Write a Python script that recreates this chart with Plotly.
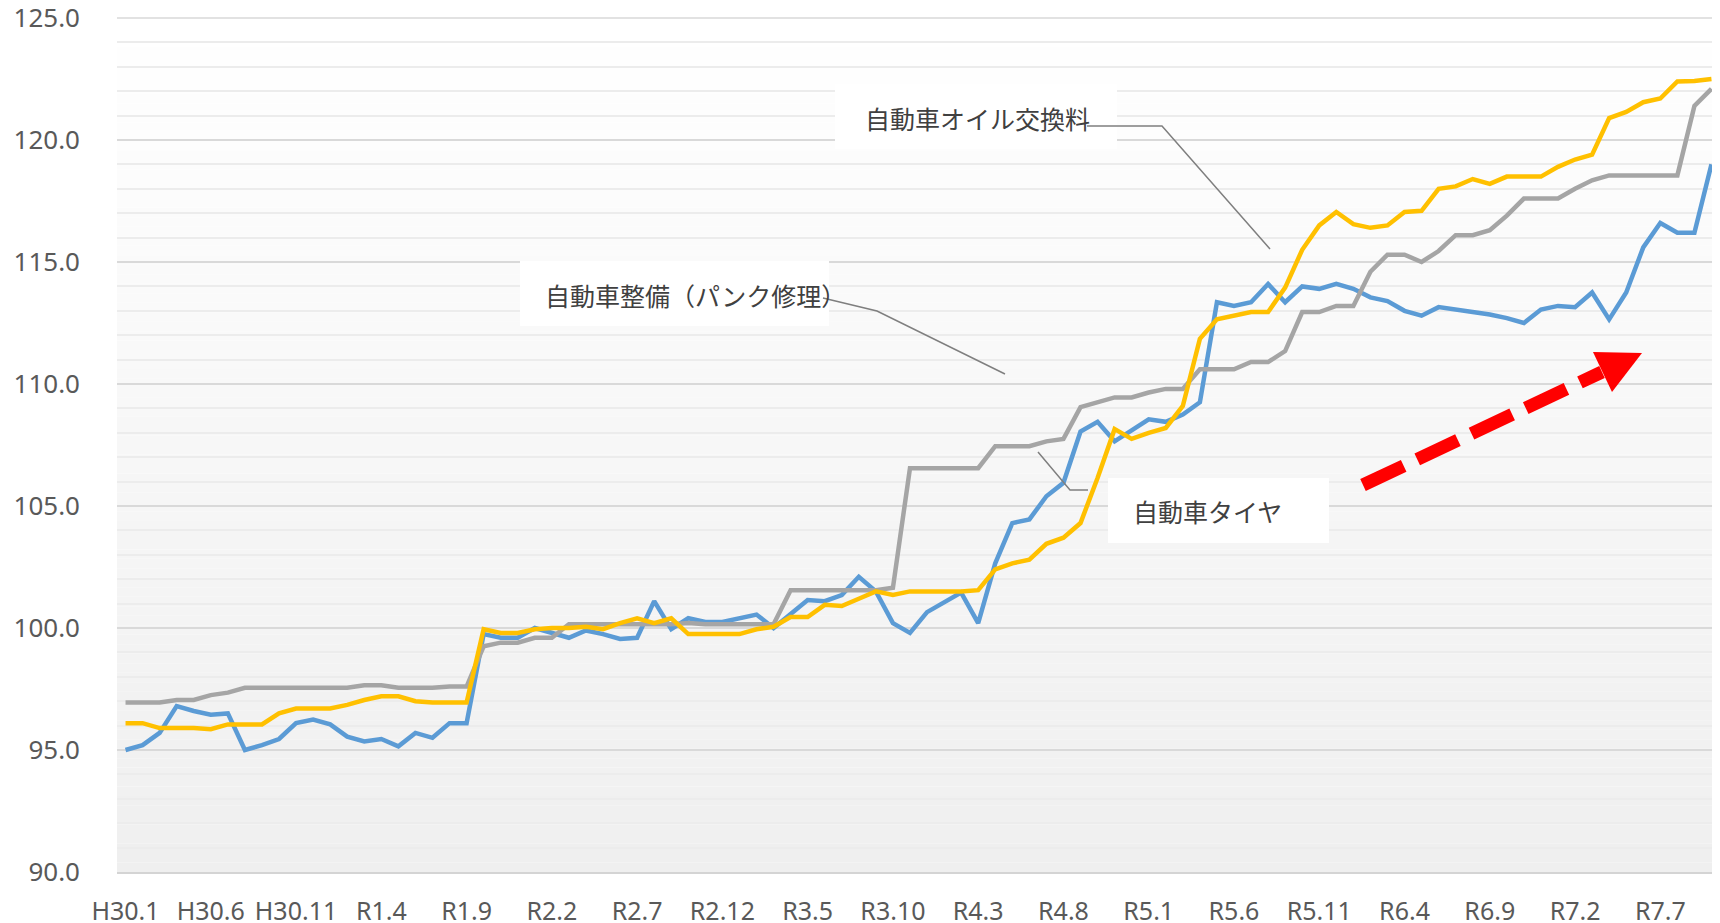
import plotly.graph_objects as go

# ---------------- data ----------------
months = []
for yr in range(2018, 2026):
    for m in range(1, 13):
        era = f"H{yr-1988}" if yr < 2019 else f"R{yr-2018}"
        months.append(f"{era}.{m}")
months = months[:94]  # H30.1 .. R7.10

tick_labels = ["H30.1", "H30.6", "H30.11", "R1.4", "R1.9", "R2.2", "R2.7", "R2.12",
               "R3.5", "R3.10", "R4.3", "R4.8", "R5.1", "R5.6", "R5.11", "R6.4",
               "R6.9", "R7.2", "R7.7"]

blue_vals = [95.0, 95.2, 95.7, 96.8, 96.6, 96.45, 96.5, 95.0, 95.2, 95.45,
             96.1, 96.25, 96.05, 95.55, 95.35, 95.45, 95.15, 95.7, 95.5, 96.1,
             96.1, 99.75, 99.6, 99.6, 100.0, 99.8, 99.6, 99.9, 99.75, 99.55,
             99.6, 101.1, 99.95, 100.4, 100.25, 100.25, 100.4, 100.55, 100.0, 100.6,
             101.15, 101.1, 101.35, 102.1, 101.5, 100.2, 99.8, 100.65, 101.05, 101.45,
             100.2, 102.65, 104.3, 104.45, 105.4, 105.95, 108.05, 108.45, 107.65, 108.1,
             108.55, 108.45, 108.75, 109.25, 113.35, 113.2, 113.35, 114.1, 113.35, 114.0,
             113.9, 114.1, 113.9, 113.55, 113.4, 113.0, 112.8, 113.15, 113.05, 112.97,
             112.85, 112.7, 112.5, 113.05, 113.2, 113.15, 113.75, 112.65, 113.75, 115.6,
             116.6, 116.2, 116.2, 119.0]

gray_vals = [96.95, 96.95, 96.95, 97.05, 97.05, 97.25, 97.35, 97.55, 97.55, 97.55,
             97.55, 97.55, 97.55, 97.55, 97.65, 97.65, 97.55, 97.55, 97.55, 97.6,
             97.6, 99.25, 99.4, 99.4, 99.6, 99.6, 100.15, 100.15, 100.15, 100.15,
             100.15, 100.15, 100.15, 100.2, 100.15, 100.15, 100.15, 100.15, 100.15, 101.55,
             101.55, 101.55, 101.55, 101.55, 101.55, 101.65, 106.55, 106.55, 106.55, 106.55,
             106.55, 107.45, 107.45, 107.45, 107.65, 107.75, 109.05, 109.25, 109.45, 109.45,
             109.65, 109.8, 109.8, 110.6, 110.6, 110.6, 110.9, 110.9, 111.35, 112.95,
             112.95, 113.2, 113.2, 114.6, 115.3, 115.3, 115.0, 115.45, 116.1, 116.1,
             116.3, 116.9, 117.6, 117.6, 117.6, 118.0, 118.35, 118.55, 118.55, 118.55,
             118.55, 118.55, 121.4, 122.1]

yellow_vals = [96.1, 96.1, 95.9, 95.9, 95.9, 95.85, 96.05, 96.05, 96.05, 96.5,
               96.7, 96.7, 96.7, 96.85, 97.05, 97.2, 97.2, 97.0, 96.95, 96.95,
               96.95, 99.95, 99.8, 99.8, 99.95, 100.0, 100.0, 100.05, 99.95, 100.2,
               100.4, 100.2, 100.4, 99.75, 99.75, 99.75, 99.75, 99.95, 100.05, 100.45,
               100.45, 100.95, 100.9, 101.2, 101.5, 101.35, 101.5, 101.5, 101.5, 101.5,
               101.55, 102.4, 102.65, 102.8, 103.45, 103.7, 104.3, 106.15, 108.15, 107.75,
               108.0, 108.2, 109.1, 111.85, 112.65, 112.8, 112.95, 112.95, 113.95, 115.5,
               116.5, 117.05, 116.55, 116.4, 116.5, 117.05, 117.1, 118.0, 118.1, 118.4,
               118.2, 118.5, 118.5, 118.5, 118.9, 119.2, 119.4, 120.9, 121.15, 121.55,
               121.7, 122.4, 122.42, 122.5]

series = [
    ("自動車整備（パンク修理）", blue_vals, "#5B9BD5"),
    ("自動車タイヤ", gray_vals, "#A5A5A5"),
    ("自動車オイル交換料", yellow_vals, "#FFC000"),
]

label_texts = ["自動車オイル交換料", "自動車整備（パンク修理）", "自動車タイヤ"]

# ---------------- layout geometry ----------------
# page has an 8px body margin: figure is placed at (8, 8) in the page
OFF = 8
PAGE_W, PAGE_H = 1720, 923
W, H = PAGE_W - OFF, PAGE_H - OFF
PL, PT, PB = 117, 18, 872          # plot box in page pixels (right edge = page edge)
L, T, R, B = PL - OFF, PT - OFF, 0, H - (PB - OFF)
PW, PH = PAGE_W - PL, PB - PT


def px(x, y):
    """page pixel -> paper coords"""
    return (x - PL) / PW, (PB - y) / PH


fig = go.Figure()
for name, vals, color in series:
    fig.add_trace(go.Scatter(x=months, y=vals, mode="lines", name=name,
                             line=dict(color=color, width=4.5)))

shapes = []
# gradient background
N = 90
top = (255, 255, 255)
bot = (239, 239, 239)
for k in range(N):
    f = (k + 0.5) / N  # 0 bottom -> 1 top
    c = tuple(round(bot[i] + (top[i] - bot[i]) * f) for i in range(3))
    shapes.append(dict(type="rect", xref="paper", yref="paper", x0=0, x1=1,
                       y0=k / N, y1=(k + 1) / N, layer="below",
                       fillcolor=f"rgb{c}", line=dict(width=0)))
# top gridline (plotly drops the grid line at the range end)
shapes.append(dict(type="line", xref="paper", yref="paper", x0=0, x1=1, y0=1, y1=1,
                   layer="below", line=dict(color="#d9d9d9", width=1.5)))

# label boxes
boxes = [(835, 84, 1117, 149), (520, 261, 829, 326), (1108, 478, 1329, 543)]
for x0, y0, x1, y1 in boxes:
    a = px(x0, y1)
    b = px(x1, y0)
    shapes.append(dict(type="rect", xref="paper", yref="paper", x0=a[0], y0=a[1],
                       x1=b[0], y1=b[1], layer="above", fillcolor="white",
                       line=dict(width=0)))

# leader lines
leaders = [
    [(1087, 126), (1162, 126), (1270, 249)],
    [(823, 298), (877, 311), (1005, 374)],
    [(1088, 490), (1070, 490), (1038, 452)],
]
for pts in leaders:
    pp = [px(*p) for p in pts]
    path = "M " + " L ".join(f"{p[0]:.5f},{p[1]:.5f}" for p in pp)
    shapes.append(dict(type="path", xref="paper", yref="paper", path=path,
                       layer="above", line=dict(color="#7f7f7f", width=1.5)))

# red dashed arrow
s = px(1363, 485)
e = px(1602, 372)
shapes.append(dict(type="line", xref="paper", yref="paper", x0=s[0], y0=s[1],
                   x1=e[0], y1=e[1], layer="above",
                   line=dict(color="#ff0000", width=13, dash="45px,15px")))
h = [px(1642, 353), px(1593, 352), px(1612, 392)]
shapes.append(dict(type="path", xref="paper", yref="paper",
                   path=f"M {h[0][0]:.5f},{h[0][1]:.5f} L {h[1][0]:.5f},{h[1][1]:.5f} L {h[2][0]:.5f},{h[2][1]:.5f} Z",
                   layer="above", fillcolor="#ff0000", line=dict(width=0)))

annots = []
label_pos = [(863, 118), (543, 295), (1131, 511)]
for txt, (x, y) in zip(label_texts, label_pos):
    p = px(x, y)
    annots.append(dict(text=txt, x=p[0], y=p[1], xref="paper", yref="paper",
                       xanchor="left", yanchor="middle", showarrow=False,
                       font=dict(family="Noto Sans CJK JP", size=25, color="#404040")))

fig.update_layout(
    width=W, height=H,
    margin=dict(l=L, r=R, t=T, b=B, pad=0, autoexpand=False),
    paper_bgcolor="white", plot_bgcolor="white",
    showlegend=False,
    shapes=shapes, annotations=annots,
    font=dict(family="Noto Sans, Noto Sans CJK JP", color="#595959", size=24),
    xaxis=dict(type="category", range=[-0.5, 93.5], tickmode="array",
               tickvals=tick_labels, ticktext=tick_labels, showgrid=False,
               showline=True, linecolor="#d4d4d4", linewidth=2, ticks="",
               zeroline=False, ticklabelstandoff=16, automargin=False,
               ticklabeloverflow="allow",
               tickfont=dict(size=25, color="#595959")),
    yaxis=dict(range=[90, 125], tick0=90, dtick=5, tickformat=".1f",
               showgrid=True, gridcolor="#d9d9d9", gridwidth=1.5,
               minor=dict(dtick=1, tick0=90, showgrid=True, gridcolor="#ececec", gridwidth=1.5),
               showline=False, zeroline=False, ticks="", ticklabelstandoff=36,
               automargin=False, ticklabeloverflow="allow",
               tickfont=dict(size=26, color="#595959")),
)

fig.write_html("out.html")
